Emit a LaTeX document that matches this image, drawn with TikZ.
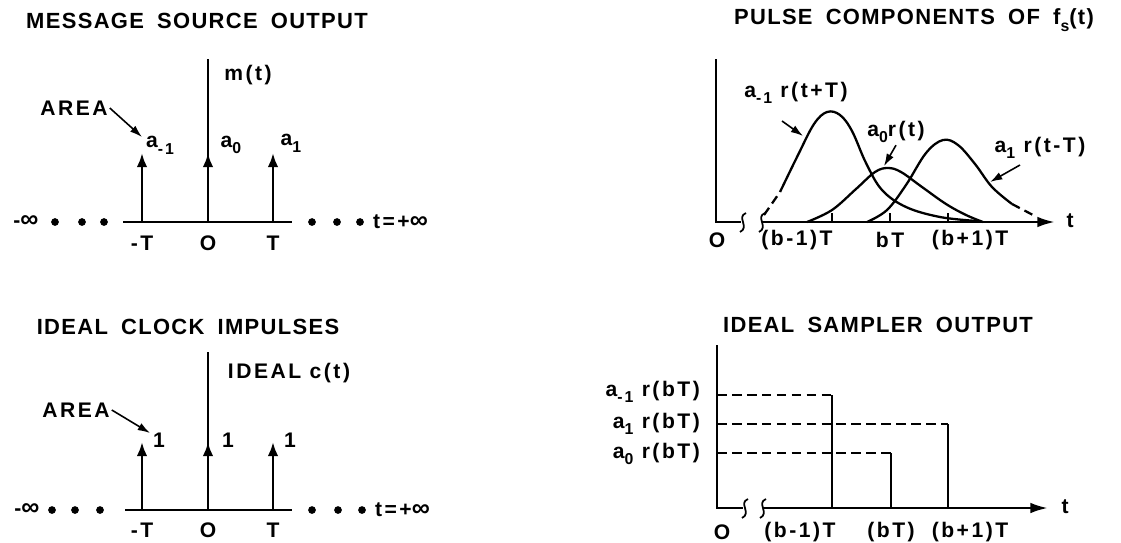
\documentclass[tikz,border=0pt]{standalone}
\usepackage{fontspec}
\setmainfont{Liberation Sans}
\usetikzlibrary{arrows.meta}
\newcommand\lowsub[1]{\raisebox{-0.6ex}{\small #1}}
\newcommand\wgap{\hspace{0.6em}}

\tikzset{
  ttl/.style={font=\fontsize{12.5}{14}\selectfont\bfseries\addfontfeature{LetterSpace=6}, inner sep=1pt},
  lbl/.style={font=\fontsize{12}{14}\selectfont\bfseries\addfontfeature{LetterSpace=12}, inner sep=1pt},
  axisline/.style={line width=1.5pt},
  impulse/.style={line width=1.5pt, -{Latex[length=8pt,width=6pt]}},
  lead/.style={line width=0.9pt, -{Latex[length=7pt,width=4.5pt]}},
  pulse/.style={line width=1.3pt},
  level/.style={line width=1pt, dash pattern=on 5.5pt off 3pt},
  brk/.style={line width=1pt}
}

\begin{document}
\begin{tikzpicture}[x=0.02cm,y=-0.02cm]
  \useasboundingbox (0,0) rectangle (1121,542);

  % message source output
  \node[ttl] (msgTitle) at (197,21) {MESSAGE\wgap SOURCE\wgap OUTPUT};
  \coordinate (msgL) at (123,222);
  \coordinate (msgR) at (292,222);
  \draw[axisline] (msgL) -- (msgR);
  \coordinate (msgTop) at (208,59);
  \coordinate (msgZero) at (208,222);
  \draw[axisline] (msgZero) -- (msgTop);
  \foreach \x/\n in {142/m, 208/z, 273/p} {
    \coordinate (msgBase\n) at (\x,222);
    \coordinate (msgTip\n) at (\x,153);
    \draw[impulse] (msgBase\n) -- (msgTip\n);
  }
  \node[lbl] (msgM) at (248,75) {m(t)};
  \node[lbl] (msgArea) at (74,108) {AREA};
  \coordinate (msgAreaTip) at (142,137);
  \draw[lead] (msgArea.east) -- (msgAreaTip);
  \node[lbl] (msgAm) at (160,145) {a\lowsub{-1}};
  \node[lbl] (msgAz) at (231,145) {a\lowsub{0}};
  \node[lbl] (msgAp) at (291,143) {a\lowsub{1}};
  \node[lbl] (msgXm) at (142,243) {-T};
  \node[lbl] (msgXz) at (208,243) {O};
  \node[lbl] (msgXp) at (273,243) {T};
  \node[lbl] (msgInfL) at (26,222) {-{\Large ∞}};
  \node[lbl, anchor=west] (msgInfR) at (371,222) {t=+{\Large ∞}};
  \foreach \x in {55,82,104,312,337,360}
    \fill (\x,222) circle[radius=2.2pt];

  % ideal clock impulses
  \node[ttl] (clkTitle) at (188,327) {IDEAL\wgap CLOCK\wgap IMPULSES};
  \coordinate (clkL) at (125,510);
  \coordinate (clkR) at (292,510);
  \draw[axisline] (clkL) -- (clkR);
  \coordinate (clkTop) at (208,352);
  \coordinate (clkZero) at (208,510);
  \draw[axisline] (clkZero) -- (clkTop);
  \foreach \x/\n in {142/m, 208/z, 273/p} {
    \coordinate (clkBase\n) at (\x,510);
    \coordinate (clkTip\n) at (\x,442);
    \draw[impulse] (clkBase\n) -- (clkTip\n);
  }
  \node[lbl] (clkC) at (289,373) {IDEAL c(t)};
  \node[lbl] (clkArea) at (76,410) {AREA};
  \coordinate (clkAreaTip) at (150,433);
  \draw[lead] (clkArea.east) -- (clkAreaTip);
  \node[lbl] (clkOm) at (159,440) {1};
  \node[lbl] (clkOz) at (228,440) {1};
  \node[lbl] (clkOp) at (290,440) {1};
  \node[lbl] (clkXm) at (142,530) {-T};
  \node[lbl] (clkXz) at (208,530) {O};
  \node[lbl] (clkXp) at (273,530) {T};
  \node[lbl] (clkInfL) at (27,510) {-{\Large ∞}};
  \node[lbl, anchor=west] (clkInfR) at (373,510) {t=+{\Large ∞}};
  \foreach \x in {52,75,100,312,338,362}
    \fill (\x,510) circle[radius=2.2pt];

  % pulse components
  \node[ttl] (pcTitle) at (914,20) {PULSE\wgap COMPONENTS\wgap OF\wgap f\lowsub{s}(t)};
  \coordinate (pcTop) at (716,59);
  \coordinate (pcOrig) at (716,222);
  \coordinate (pcBrkA) at (741,222);
  \coordinate (pcBrkB) at (762,222);
  \coordinate (pcEnd) at (1055,222);
  \draw[axisline] (pcTop) -- (pcOrig) -- (pcBrkA);
  \draw[axisline, -{Latex[length=10pt,width=6pt]}] (pcBrkB) -- (pcEnd);
  \draw[brk] (746,213) .. controls (736,217) and (750,227) .. (740,232);
  \draw[brk] (765,213) .. controls (755,217) and (769,227) .. (759,232);
  \foreach \x in {832,890,948}
    \draw[line width=0.8pt] (\x,222) -- (\x,213);
  \draw[pulse, dash pattern=on 5pt off 3pt] (764,215) -- (780,192);
  \draw[pulse] plot[smooth, tension=0.6] coordinates {(780,192) (798,155) (814,124) (827,112) (840,115) (852,131) (866,163) (882,190) (906,207) (940,217) (977,221)};
  \draw[pulse] plot[smooth, tension=0.6] coordinates {(807,222) (832,210) (856,189) (875,172) (888,168) (901,172) (922,187) (946,204) (966,215) (983,222)};
  \draw[pulse] plot[smooth, tension=0.6] coordinates {(867,222) (887,210) (906,185) (926,153) (943,140) (958,145) (975,164) (992,187) (1012,204)};
  \draw[pulse, dash pattern=on 5pt off 3pt] (1012,204) -- (1033,215);
  \node[lbl] (pcAm) at (796,93) {a\lowsub{-1} r(t+T)};
  \node[lbl] (pcAz) at (896,132) {a\lowsub{0}r(t)};
  \node[lbl] (pcAp) at (1040,148) {a\lowsub{1} r(t-T)};
  \coordinate (pcAmTip) at (803,136);
  \coordinate (pcAzTip) at (884,166);
  \coordinate (pcApTip) at (990,182);
  \draw[lead] (782,121) -- (pcAmTip);
  \draw[lead] (pcAz.south) -- (pcAzTip);
  \draw[lead] (1020,165) -- (pcApTip);
  \node[lbl] (pcXo) at (717,240) {O};
  \node[lbl] (pcXm) at (797,240) {(b-1)T};
  \node[lbl] (pcXz) at (890,240) {bT};
  \node[lbl] (pcXp) at (970,240) {(b+1)T};
  \node[lbl] (pcT) at (1070,221) {t};

  % ideal sampler output
  \node[ttl] (smpTitle) at (878,325) {IDEAL\wgap SAMPLER\wgap OUTPUT};
  \coordinate (smpTop) at (717,345);
  \coordinate (smpOrig) at (717,508);
  \coordinate (smpBrkA) at (743,508);
  \coordinate (smpBrkB) at (763,508);
  \coordinate (smpEnd) at (1048,508);
  \draw[axisline] (smpTop) -- (smpOrig) -- (smpBrkA);
  \draw[axisline, -{Latex[length=10pt,width=6pt]}] (smpBrkB) -- (smpEnd);
  \draw[brk] (748,499) .. controls (738,503) and (752,513) .. (742,518);
  \draw[brk] (766,499) .. controls (756,503) and (770,513) .. (760,518);
  \foreach \x/\y/\n in {832/395/m, 891/453/z, 948/424/p} {
    \coordinate (smpLv\n) at (717,\y);
    \coordinate (smpHi\n) at (\x,\y);
    \coordinate (smpLo\n) at (\x,508);
    \draw[level] (smpLv\n) -- (smpHi\n);
    \draw[axisline] (smpLo\n) -- (smpHi\n);
  }
  \node[lbl, anchor=east] (smpAm) at (702,392) {a\lowsub{-1} r(bT)};
  \node[lbl, anchor=east] (smpAp) at (702,424) {a\lowsub{1} r(bT)};
  \node[lbl, anchor=east] (smpAz) at (702,454) {a\lowsub{0} r(bT)};
  \node[lbl] (smpXo) at (722,532) {O};
  \node[lbl] (smpXm) at (800,532) {(b-1)T};
  \node[lbl] (smpXz) at (891,532) {(bT)};
  \node[lbl] (smpXp) at (970,532) {(b+1)T};
  \node[lbl] (smpT) at (1065,507) {t};
\end{tikzpicture}
\end{document}
